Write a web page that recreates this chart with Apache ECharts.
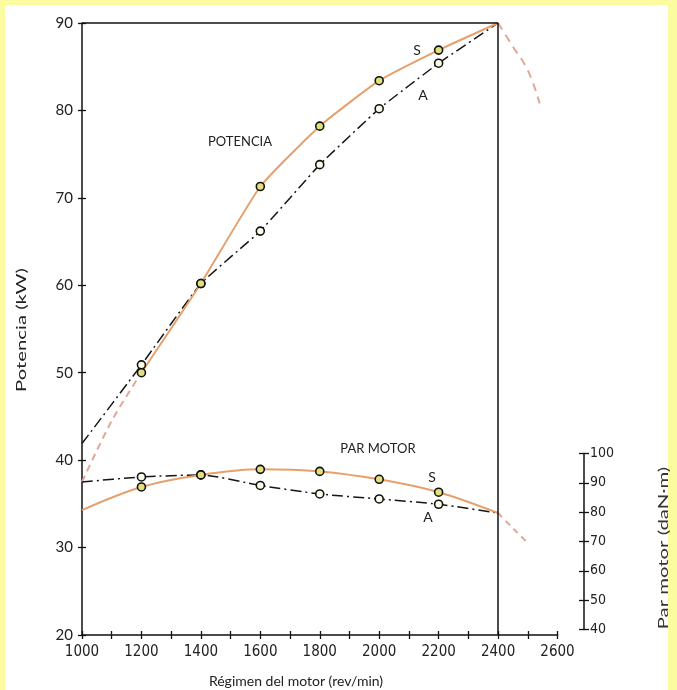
<!DOCTYPE html>
<html><head><meta charset="utf-8">
<script src="https://cdn.jsdelivr.net/npm/echarts@6/dist/echarts.min.js"></script>
<style>
html,body{margin:0;padding:0;background:#fbfb9f;width:677px;height:690px;overflow:hidden;}
#bg{position:absolute;left:5px;top:5px;width:663px;height:685px;background:#fff;}
#c{position:absolute;left:0;top:0;width:677px;height:690px;}
</style></head><body><div id="bg"></div><div id="c"></div>
<script>
// Power (kW), left axis
const powerS = [[1200,50.0],[1400,60.2],[1600,71.3],[1800,78.2],[2000,83.4],[2200,86.9],[2400,90]];
const powerSStart = [[1000,37.5],[1100,44.5],[1200,50.0]];
const powerSEnd = [[2400,90],[2450,87.3],[2500,84.6],[2540,80.8]];
const powerA = [[1000,41.9],[1200,50.9],[1400,60.2],[1600,66.2],[1800,73.8],[2000,80.2],[2200,85.4],[2400,90]];
// Torque (daN·m), right axis
const torqueS = [[1000,80.7],[1200,88.6],[1400,92.7],[1600,94.6],[1800,93.9],[2000,91.2],[2200,86.8],[2400,79.7]];
const torqueA = [[1000,90.3],[1200,92.0],[1400,92.7],[1600,89.1],[1800,86.2],[2000,84.5],[2200,82.7],[2400,79.7]];
const torqueEnd = [[2400,79.7],[2450,74.5],[2500,69.5]];
// Axis settings
const xMin = 1000, xMax = 2600, xStep = 100, xLabelStep = 200;
const pMin = 20, pMax = 90, pStep = 10;
const tMin = 40, tMax = 100, tStep = 10;

const orange = '#e5a06c', pink = '#e0a898', dark = '#161616';
const numFont = "'Liberation Sans Narrow','DejaVu Sans Condensed','Liberation Sans',sans-serif";
const txtFont = "Lato,'Open Sans',sans-serif";

const mk = v => (v[0] >= 1200 && v[0] <= 2200) ? 8 : 0;

const chart = echarts.init(document.getElementById('c'), null, {renderer:'canvas'});
const axisLine = {lineStyle:{color:'#111', width:1.5}};
chart.setOption({
  animation:false,
  backgroundColor:'transparent',
  grid:[
    {left:82, top:23, width:475.5, height:612},
    {left:82, top:453.5, width:475.5, height:176}
  ],
  xAxis:[
    {gridIndex:0, type:'value', min:xMin, max:xMax, interval:xStep, position:'bottom',
     axisLine:axisLine, axisTick:{length:4, lineStyle:{color:'#111',width:1.3}},
     axisLabel:{margin:10, color:'#222', fontSize:15, fontFamily:numFont,
       formatter:v => (v % xLabelStep === 0 ? String(v) : '')},
     splitLine:{show:false}},
    {gridIndex:0, type:'value', min:xMin, max:xMax, interval:xStep, position:'bottom',
     axisLine:{show:false}, axisTick:{inside:true, length:4, lineStyle:{color:'#111',width:1.3}},
     axisLabel:{show:false}, splitLine:{show:false}},
    {gridIndex:1, type:'value', min:xMin, max:xMax, show:false}
  ],
  yAxis:[
    {gridIndex:0, type:'value', min:pMin, max:pMax, interval:pStep, position:'left',
     axisLine:{show:true, lineStyle:{color:'#111', width:1.5}},
     axisTick:{show:true, length:4, lineStyle:{color:'#111',width:1.3}},
     axisLabel:{margin:9, color:'#222', fontSize:15, fontFamily:txtFont}, splitLine:{show:false}},
    {gridIndex:0, type:'value', min:pMin, max:pMax, interval:pStep, position:'left',
     axisLine:{show:false}, axisTick:{show:true, inside:true, length:4, lineStyle:{color:'#111',width:1.3}},
     axisLabel:{show:false}, splitLine:{show:false}},
    {gridIndex:1, type:'value', min:tMin, max:tMax, interval:tStep, position:'right', offset:26.5,
     axisLine:{show:true, lineStyle:{color:'#111', width:1.5}},
     axisTick:{show:true, length:5, lineStyle:{color:'#111',width:1.3}},
     axisLabel:{margin:6, color:'#222', fontSize:14, fontFamily:numFont}, splitLine:{show:false}},
    {gridIndex:1, type:'value', min:tMin, max:tMax, interval:tStep, position:'right', offset:26.5,
     axisLine:{show:false}, axisTick:{show:true, inside:true, length:5, lineStyle:{color:'#111',width:1.3}},
     axisLabel:{show:false}, splitLine:{show:false}}
  ],
  series:[
    {type:'line', name:'frame', xAxisIndex:0, yAxisIndex:0, data:[], silent:true,
     markLine:{silent:true, symbol:'none', label:{show:false},
       lineStyle:{color:'#111', width:1.5, type:'solid'},
       data:[{xAxis:2400}, [{coord:[xMin,pMax]},{coord:[2400,pMax]}]]}},
    {type:'line', name:'S start', xAxisIndex:0, yAxisIndex:0, data:powerSStart, smooth:0.3,
     showSymbol:false, lineStyle:{color:pink, width:2, type:[7,5]}},
    {type:'line', name:'S end', xAxisIndex:0, yAxisIndex:0, data:powerSEnd, smooth:0.4,
     showSymbol:false, lineStyle:{color:pink, width:2, type:[8,6]}},
    {type:'line', name:'T end', xAxisIndex:2, yAxisIndex:2, data:torqueEnd, smooth:0.3,
     showSymbol:false, lineStyle:{color:pink, width:2, type:[6,5]}},
    {type:'line', name:'Potencia A', xAxisIndex:0, yAxisIndex:0, data:powerA, smooth:0.1,
     symbol:'circle', symbolSize:mk, lineStyle:{color:dark, width:1.5, type:[11,4,2,4]},
     itemStyle:{color:'#fcfbe6', borderColor:'#111', borderWidth:1.6}},
    {type:'line', name:'Potencia S', xAxisIndex:0, yAxisIndex:0, data:powerS, smooth:0.15,
     symbol:'circle', symbolSize:mk, lineStyle:{color:orange, width:2},
     itemStyle:{color:'#e2df7c', borderColor:'#111', borderWidth:1.6}},
    {type:'line', name:'Par A', xAxisIndex:2, yAxisIndex:2, data:torqueA, smooth:0.2,
     symbol:'circle', symbolSize:mk, lineStyle:{color:dark, width:1.5, type:[11,4,2,4]},
     itemStyle:{color:'#fcfbe6', borderColor:'#111', borderWidth:1.6}},
    {type:'line', name:'Par S', xAxisIndex:2, yAxisIndex:2, data:torqueS, smooth:0.35,
     symbol:'circle', symbolSize:mk, lineStyle:{color:orange, width:2},
     itemStyle:{color:'#e2df7c', borderColor:'#111', borderWidth:1.6}}
  ],
  graphic:[
    {type:'text', x:21, y:330, rotation:Math.PI/2, scaleX:1.45, style:{text:'Potencia (kW)', font:"14px "+txtFont, fill:'#222', textAlign:'center', textVerticalAlign:'middle'}},
    {type:'text', x:296, y:681, style:{text:'Régimen del motor (rev/min)', font:"14px "+txtFont, fill:'#222', textAlign:'center', textVerticalAlign:'middle'}},
    {type:'text', x:663, y:548, rotation:Math.PI/2, scaleX:1.45, style:{text:'Par motor (daN·m)', font:"14px "+txtFont, fill:'#333', textAlign:'center', textVerticalAlign:'middle'}},
    {type:'text', x:240, y:142, style:{text:'POTENCIA', font:"13px "+txtFont, fill:'#222', textAlign:'center', textVerticalAlign:'middle'}},
    {type:'text', x:417, y:50, style:{text:'S', font:"14px "+txtFont, fill:'#222', textAlign:'center', textVerticalAlign:'middle'}},
    {type:'text', x:423, y:95, style:{text:'A', font:"14px "+txtFont, fill:'#222', textAlign:'center', textVerticalAlign:'middle'}},
    {type:'text', x:378, y:449, style:{text:'PAR MOTOR', font:"13px "+txtFont, fill:'#222', textAlign:'center', textVerticalAlign:'middle'}},
    {type:'text', x:432, y:477, style:{text:'S', font:"14px "+txtFont, fill:'#222', textAlign:'center', textVerticalAlign:'middle'}},
    {type:'text', x:428, y:517, style:{text:'A', font:"14px "+txtFont, fill:'#222', textAlign:'center', textVerticalAlign:'middle'}}
  ]
});
</script></body></html>
